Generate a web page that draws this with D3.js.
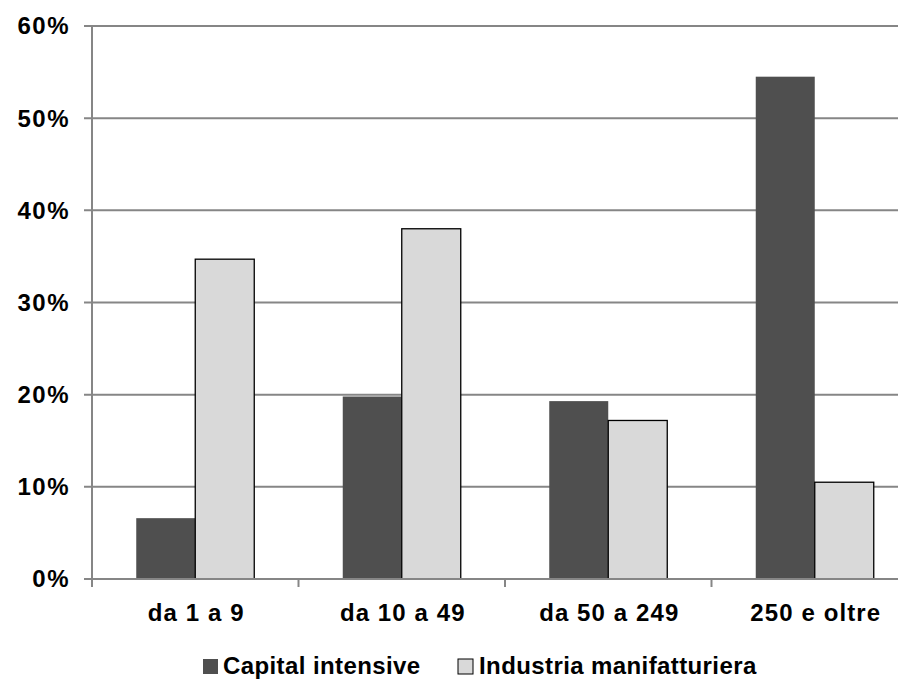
<!DOCTYPE html>
<html>
<head>
<meta charset="utf-8">
<script src="https://cdn.jsdelivr.net/npm/d3@7"></script>
<style>
  body { margin: 0; background: #fff; }
  text { font-family: "Liberation Sans", Arial, sans-serif; font-weight: bold; font-size: 24px; fill: #000; letter-spacing: 0.4px; }
  .ylab { letter-spacing: 1.5px; }
  .xlab { letter-spacing: 1.1px; }
</style>
</head>
<body>
<svg id="chart" width="898" height="679"></svg>
<script>
const categories = ["da 1 a 9", "da 10 a 49", "da 50 a 249", "250 e oltre"];
const seriesNames = ["Capital intensive", "Industria manifatturiera"];
const capitalIntensive = [0.066, 0.198, 0.193, 0.545];
const industriaManifatturiera = [0.347, 0.380, 0.172, 0.105];
const yTicks = [0, 0.1, 0.2, 0.3, 0.4, 0.5, 0.6];
const colors = ["#4f4f4f", "#d9d9d9"];

(function () {
const svg = d3.select("#chart");
const pLeft = 92, pRight = 918, pTop = 26, pBottom = 579;
const gridColor = "#868686";

const x0 = d3.scaleBand().domain(categories).range([pLeft, pRight]).paddingInner(0).paddingOuter(0);
const x1 = d3.scaleBand().domain(seriesNames).range([0, x0.bandwidth()]).paddingInner(0).paddingOuter(0.75);
const y = d3.scaleLinear().domain([0, 0.6]).range([pBottom, pTop]);

// gridlines
svg.append("g").selectAll("line").data(yTicks.filter(d => d > 0)).join("line")
  .attr("x1", pLeft - 8).attr("x2", 898)
  .attr("y1", d => y(d)).attr("y2", d => y(d))
  .attr("stroke", gridColor).attr("stroke-width", 2);

// y axis labels
const fmt = d3.format(".0%");
svg.append("g").selectAll("text").data(yTicks).join("text")
  .attr("class", "ylab")
  .attr("x", 70).attr("y", d => y(d)).attr("dy", "0.35em")
  .attr("text-anchor", "end").text(d => fmt(d));

// bars
const rows = categories.map((c, i) => ({ cat: c, vals: [capitalIntensive[i], industriaManifatturiera[i]] }));
const groups = svg.append("g").selectAll("g").data(rows).join("g")
  .attr("transform", d => `translate(${x0(d.cat)},0)`);
groups.selectAll("rect").data(d => d.vals.map((v, k) => ({ v, k }))).join("rect")
  .attr("x", d => x1(seriesNames[d.k]))
  .attr("width", x1.bandwidth())
  .attr("y", d => y(d.v))
  .attr("height", d => y(0) - y(d.v))
  .attr("fill", d => colors[d.k])
  .attr("stroke", d => d.k === 1 ? "#000" : "none")
  .attr("stroke-width", 1.3);

// y axis line
svg.append("line").attr("x1", pLeft).attr("x2", pLeft).attr("y1", pTop).attr("y2", pBottom + 8)
  .attr("stroke", gridColor).attr("stroke-width", 2);
// x axis line and tick marks
svg.append("line").attr("x1", pLeft - 8).attr("x2", 898).attr("y1", pBottom).attr("y2", pBottom)
  .attr("stroke", gridColor).attr("stroke-width", 2);
svg.append("g").selectAll("line").data(categories.slice(1)).join("line")
  .attr("x1", d => x0(d)).attr("x2", d => x0(d))
  .attr("y1", pBottom).attr("y2", pBottom + 8)
  .attr("stroke", gridColor).attr("stroke-width", 2);

// x labels
svg.append("g").selectAll("text").data(categories).join("text")
  .attr("class", "xlab")
  .attr("x", d => x0(d) + x0.bandwidth() / 2 + 1).attr("y", 621)
  .attr("text-anchor", "middle").text(d => d);

// legend
const legendItems = [
  { name: seriesNames[0], sx: 203, tx: 223 },
  { name: seriesNames[1], sx: 458, tx: 479 }
];
const lg = svg.append("g");
legendItems.forEach((it, k) => {
  lg.append("rect").attr("x", it.sx).attr("y", 659).attr("width", 15).attr("height", 15)
    .attr("fill", colors[k]).attr("stroke", k === 1 ? "#000" : "none").attr("stroke-width", 1);
  lg.append("text").attr("x", it.tx).attr("y", 674).text(it.name);
});
})();
</script>
</body>
</html>
